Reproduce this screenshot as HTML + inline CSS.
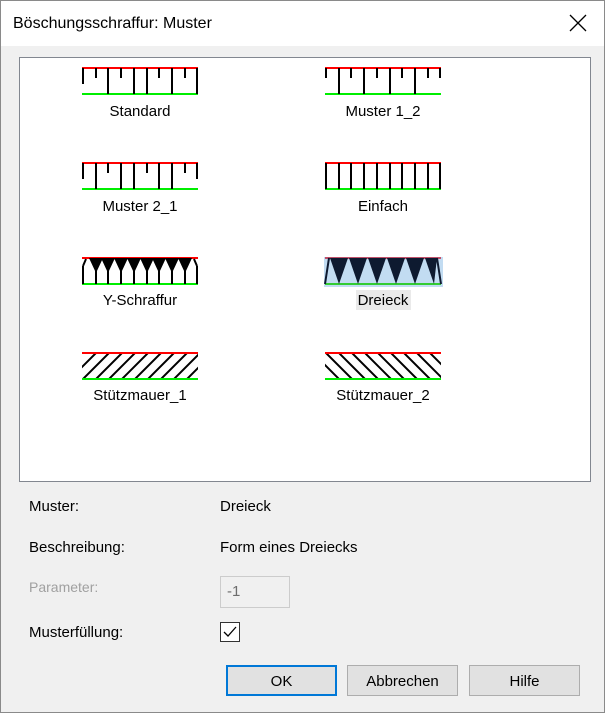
<!DOCTYPE html><html><head><style>
body{margin:0;width:605px;height:713px;background:#f0f0f0;font-family:"Liberation Sans",sans-serif;font-size:15px;color:#000;position:relative;overflow:hidden}
.a{position:absolute}
.btn{position:absolute;top:665px;width:109px;height:29px;border:1px solid #adadad;background:#e1e1e1;text-align:center;line-height:31px;font-size:15px}
</style></head><body>
<div class="a" style="left:0;top:0;width:603px;height:711px;border:1px solid #8a8a8a"></div>
<div class="a" style="left:1px;top:1px;width:603px;height:45px;background:#fff"></div>
<div class="a" style="left:13px;top:15px;font-size:16px">Böschungsschraffur: Muster</div>
<svg class="a" style="left:569px;top:14px" width="18" height="18"><path d="M1 1L17 17M17 1L1 17" stroke="#000" stroke-width="1.3"/></svg>
<div class="a" style="left:19px;top:57px;width:570px;height:423px;background:#fff;border:1px solid #828790"></div>
<div class="a" style="left:324px;top:257px;width:119px;height:30px;background:#c2dcf2"></div>
<div class="a" style="left:356px;top:290px;width:55px;height:20px;background:#eaeaea"></div>
<svg class="a" style="left:0;top:0" width="605" height="713">
<defs>
<g id="rl"><line x1="82" y1="0" x2="198" y2="0" stroke="#f00" stroke-width="2"/><line x1="82" y1="26" x2="198" y2="26" stroke="#0e0" stroke-width="2"/></g>
</defs>
<g stroke="#000" stroke-width="2">
<g transform="translate(0,68)"><use href="#rl"/>
<path d="M83 0V16M96 0V10M108 0V26M121 0V10M134 0V26M147 0V26M159 0V10M172 0V26M185 0V10M197 0V26"/></g>
<g transform="translate(243,68)"><use href="#rl"/>
<path d="M83 0V10M96 0V26M108 0V10M121 0V26M134 0V10M147 0V26M159 0V10M172 0V26M185 0V10M197 0V10"/></g>
<g transform="translate(0,163)"><use href="#rl"/>
<path d="M83 0V16M96 0V26M108 0V10M121 0V26M134 0V26M147 0V10M159 0V26M172 0V26M185 0V10M197 0V16"/></g>
<g transform="translate(243,163)"><use href="#rl"/>
<path d="M83 0V26M96 0V26M108 0V26M121 0V26M134 0V26M147 0V26M159 0V26M172 0V26M185 0V26M197 0V26"/></g>
<g transform="translate(0,258)"><use href="#rl"/>
<path d="M83 8V26M83 8L86 1M96 12V26M108 12V26M121 12V26M134 12V26M147 12V26M159 12V26M172 12V26M185 12V26M197 8V26M197 8L194 1"/>
<path fill="#000" stroke="none" d="M89 0L103 0L96 15ZM101 0L115 0L108 15ZM114 0L128 0L121 15ZM127 0L141 0L134 15ZM140 0L154 0L147 15ZM152 0L166 0L159 15ZM165 0L179 0L172 15ZM178 0L192 0L185 15Z"/></g>
<g transform="translate(243,258)"><line x1="82" y1="0" x2="198" y2="0" stroke="#c0506a" stroke-width="2"/><line x1="82" y1="26" x2="198" y2="26" stroke="#3c3" stroke-width="2"/>
<path fill="#0e1a30" stroke="none" d="M87 0L105 0L96 26ZM106 0L124 0L115 26ZM125 0L143 0L134 26ZM144 0L162 0L153 26ZM163 0L181 0L172 26ZM182 0L194 0L191 26Z"/>
<path d="M86 0L82 26M194 0L198 26" stroke="#0e1a30"/></g>
<g transform="translate(0,353)"><use href="#rl"/><clipPath id="c1"><rect x="82" y="1" width="116" height="24"/></clipPath>
<g clip-path="url(#c1)"><path d="M70 26L96 0M83 26L109 0M96 26L122 0M109 26L135 0M122 26L148 0M135 26L161 0M148 26L174 0M161 26L187 0M174 26L200 0M187 26L213 0"/></g></g>
<g transform="translate(243,353)"><use href="#rl"/><clipPath id="c2"><rect x="82" y="1" width="116" height="24"/></clipPath>
<g clip-path="url(#c2)"><path d="M70 0L96 26M83 0L109 26M96 0L122 26M109 0L135 26M122 0L148 26M135 0L161 26M148 0L174 26M161 0L187 26M174 0L200 26M187 0L213 26"/></g></g>
</g>
<g font-family="Liberation Sans" font-size="15" text-anchor="middle">
<text x="140" y="116">Standard</text><text x="383" y="116">Muster 1_2</text>
<text x="140" y="211">Muster 2_1</text><text x="383" y="211">Einfach</text>
<text x="140" y="305">Y-Schraffur</text><text x="383" y="305">Dreieck</text>
<text x="140" y="400">Stützmauer_1</text><text x="383" y="400">Stützmauer_2</text>
</g>
</svg>
<div class="a" style="left:29px;top:498px">Muster:</div>
<div class="a" style="left:220px;top:498px">Dreieck</div>
<div class="a" style="left:29px;top:539px">Beschreibung:</div>
<div class="a" style="left:220px;top:539px">Form eines Dreiecks</div>
<div class="a" style="left:29px;top:579px;color:#a0a0a0;font-size:14px">Parameter:</div>
<div class="a" style="left:220px;top:576px;width:68px;height:30px;border:1px solid #ccc;background:#f0f0f0"></div>
<div class="a" style="left:227px;top:583px;color:#6d6d6d">-1</div>
<div class="a" style="left:29px;top:624px">Musterfüllung:</div>
<div class="a" style="left:220px;top:622px;width:18px;height:18px;border:1px solid #333;background:#fff"></div>
<svg class="a" style="left:220px;top:622px" width="20" height="20"><path d="M4 10L8 14L16 5" stroke="#000" stroke-width="1.3" fill="none"/></svg>
<div class="btn" style="left:226px;width:107px;height:27px;line-height:29px;border:2px solid #0078d7">OK</div>
<div class="btn" style="left:347px">Abbrechen</div>
<div class="btn" style="left:469px">Hilfe</div>
</body></html>
